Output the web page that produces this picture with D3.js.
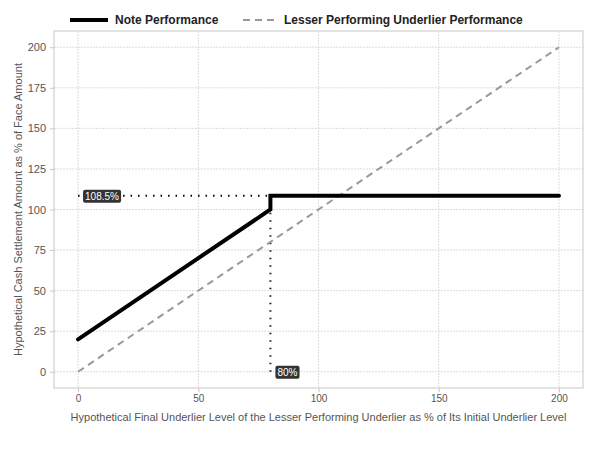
<!DOCTYPE html>
<html>
<head>
<meta charset="utf-8">
<script src="https://cdn.jsdelivr.net/npm/d3@7"></script>
<style>
  body { margin: 0; background: #fff; }
  text { font-family: "Liberation Sans", Arial, sans-serif; }
</style>
</head>
<body>
<div id="chart"></div>
<script>
const width = 600, height = 450;

// data
const noteX = [0, 80, 80, 200];
const noteY = [20, 100, 108.5, 108.5];
const underX = [0, 200];
const underY = [0, 200];
const xTicks = [0, 50, 100, 150, 200];
const yTicks = [0, 25, 50, 75, 100, 125, 150, 175, 200];
const capLevel = 108.5, barrier = 80;

const margin = {top: 31, right: 17, bottom: 62, left: 54};

const svg = d3.select('#chart').append('svg')
    .attr('width', width)
    .attr('height', height);

const x = d3.scaleLinear().domain([-10, 210]).range([margin.left, width - margin.right]);
const y = d3.scaleLinear().domain([-10, 210]).range([height - margin.bottom, margin.top]);

// grid
const grid = svg.append('g');
grid.selectAll('.gx').data(xTicks).join('line')
    .attr('x1', d => x(d)).attr('x2', d => x(d))
    .attr('y1', margin.top).attr('y2', height - margin.bottom)
    .attr('stroke', '#dcdcdc').attr('stroke-dasharray', '2,1');
grid.selectAll('.gy').data(yTicks).join('line')
    .attr('y1', d => y(d)).attr('y2', d => y(d))
    .attr('x1', margin.left).attr('x2', width - margin.right)
    .attr('stroke', '#dcdcdc').attr('stroke-dasharray', '2,1');

// panel border
svg.append('rect')
    .attr('x', margin.left).attr('y', margin.top)
    .attr('width', width - margin.left - margin.right)
    .attr('height', height - margin.top - margin.bottom)
    .attr('fill', 'none').attr('stroke', '#c8c8c8');

// axes
const xAxis = svg.append('g')
    .attr('transform', `translate(0,${height - margin.bottom})`)
    .call(d3.axisBottom(x).tickValues(xTicks).tickSize(4).tickPadding(3));
const yAxis = svg.append('g')
    .attr('transform', `translate(${margin.left},0)`)
    .call(d3.axisLeft(y).tickValues(yTicks).tickSize(4).tickPadding(4));
[xAxis, yAxis].forEach(a => {
  a.select('.domain').remove();
  a.selectAll('line').attr('stroke', '#c8c8c8');
  a.selectAll('text').attr('fill', '#555').style('font-size', '10px');
});
yAxis.selectAll('text').style('font-size', '11px');

// reference dotted lines
svg.append('line')
    .attr('x1', x(0)).attr('x2', x(barrier))
    .attr('y1', y(capLevel)).attr('y2', y(capLevel))
    .attr('stroke', '#000').attr('stroke-width', 2).attr('stroke-dasharray', '1.5,6');
svg.append('line')
    .attr('x1', x(barrier)).attr('x2', x(barrier))
    .attr('y1', y(0)).attr('y2', y(100))
    .attr('stroke', '#1a1a3a').attr('stroke-width', 2).attr('stroke-dasharray', '1.5,6');

// underlier line
const line = d3.line().x(d => x(d[0])).y(d => y(d[1]));
svg.append('path')
    .datum(d3.zip(underX, underY))
    .attr('d', line)
    .attr('fill', 'none').attr('stroke', '#999').attr('stroke-width', 2)
    .attr('stroke-dasharray', '7,5');

// note line
svg.append('path')
    .datum(d3.zip(noteX, noteY))
    .attr('d', line)
    .attr('fill', 'none').attr('stroke', '#000').attr('stroke-width', 4)
    .attr('stroke-linecap', 'round').attr('stroke-linejoin', 'miter');

// labels
function label(px, py, txt) {
  const g = svg.append('g').attr('transform', `translate(${px},${py})`);
  const t = g.append('text').attr('x', 5).attr('y', 4)
      .attr('fill', '#fff').style('font-size', '10px').text(txt);
  const bb = t.node().getBBox();
  g.insert('rect', 'text')
      .attr('x', bb.x - 2).attr('y', bb.y - 1)
      .attr('width', bb.width + 4).attr('height', bb.height + 2)
      .attr('rx', 2).attr('fill', '#333');
}
label(x(0) + 2, y(capLevel), capLevel + '%');
label(x(barrier) + 2, y(0), barrier + '%');

// axis titles
svg.append('text')
    .attr('x', x(100)).attr('y', 421)
    .attr('text-anchor', 'middle').attr('fill', '#555').style('font-size', '11px')
    .text('Hypothetical Final Underlier Level of the Lesser Performing Underlier as % of Its Initial Underlier Level');
svg.append('text')
    .attr('transform', `translate(22,${y(100)}) rotate(-90)`)
    .attr('text-anchor', 'middle').attr('fill', '#555').style('font-size', '11px')
    .text('Hypothetical Cash Settlement Amount as % of Face Amount');

// legend
const legend = svg.append('g').attr('transform', 'translate(0,20)');
legend.append('line').attr('x1', 70).attr('x2', 108).attr('y1', 0).attr('y2', 0)
    .attr('stroke', '#000').attr('stroke-width', 4);
legend.append('text').attr('x', 115).attr('y', 4)
    .style('font-size', '12px').style('font-weight', 'bold').attr('fill', '#222')
    .text('Note Performance');
legend.append('line').attr('x1', 243).attr('x2', 276).attr('y1', 0).attr('y2', 0)
    .attr('stroke', '#999').attr('stroke-width', 2).attr('stroke-dasharray', '7,5');
legend.append('text').attr('x', 284).attr('y', 4)
    .style('font-size', '12px').style('font-weight', 'bold').attr('fill', '#222')
    .text('Lesser Performing Underlier Performance');
</script>
</body>
</html>
